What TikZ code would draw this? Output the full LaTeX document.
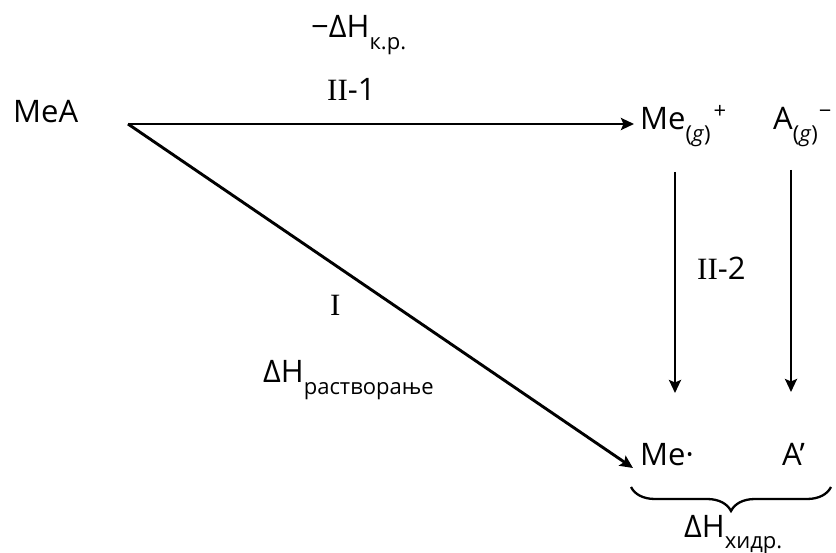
\documentclass[tikz,border=0pt]{standalone}
\usepackage{fontspec}
\setmainfont{Open Sans}
\newfontfamily\romI{Liberation Serif}
\usetikzlibrary{arrows.meta,decorations.pathreplacing}
\newcommand{\mainsz}{\fontsize{31}{36}\selectfont}
\newcommand{\lowsub}[1]{\raisebox{-0.36em}{\fontsize{22}{26}\selectfont #1}}
\newcommand{\highsup}[1]{\raisebox{0.36em}{\fontsize{22}{26}\selectfont #1}}
\tikzset{
  txt/.style={inner sep=0pt, anchor=base west, font=\mainsz},
  arr/.style={line width=2.9pt, -{Stealth[length=13pt,width=12pt,inset=2.5pt]}},
  br/.style={line width=2.3pt, decorate, decoration={brace, amplitude=24pt, aspect=0.5, mirror}}
}
\begin{document}
\begin{tikzpicture}[x=1pt,y=-1pt]
\useasboundingbox (0,0) rectangle (836,553);
\node[txt] (mea) at (13,123) {MeA};
\node[txt] (meg) at (640,130) {Me\lowsub{(\textit{g})}\kern3pt\highsup{+}};
\node[txt] (ag) at (773,130) {A\lowsub{(\textit{g})}\kern1pt\highsup{−}};
\node[txt] (me) at (640,465) {Me·};
\node[txt] (ap) at (782,465) {A’};
\node[txt] (dhkr) at (311,38) {−ΔH\lowsub{к.р.}};
\node[txt] (ii1) at (327,101) {{\romI II}-1};
\node[txt] (ii2) at (697,280) {{\romI II}-2};
\node[txt] (i) at (330,316) {{\romI I}};
\node[txt] (dhr) at (263,383) {ΔH\lowsub{растворање}};
\node[txt] (dhh) at (684,537) {ΔH\lowsub{хидр.}};
\coordinate (o) at (128,124);
\coordinate (t1) at (634,124);
\coordinate (t2) at (633,468);
\coordinate (v1a) at (675,172);
\coordinate (v1b) at (675,393);
\coordinate (v2a) at (791,170);
\coordinate (v2b) at (791,392);
\coordinate (b1) at (631,487);
\coordinate (b2) at (831,487);
\draw[arr] (o) -- (t1);
\draw[arr] (o) -- (t2);
\draw[arr] (v1a) -- (v1b);
\draw[arr] (v2a) -- (v2b);
\draw[br] (b1) -- (b2);
\end{tikzpicture}
\end{document}
